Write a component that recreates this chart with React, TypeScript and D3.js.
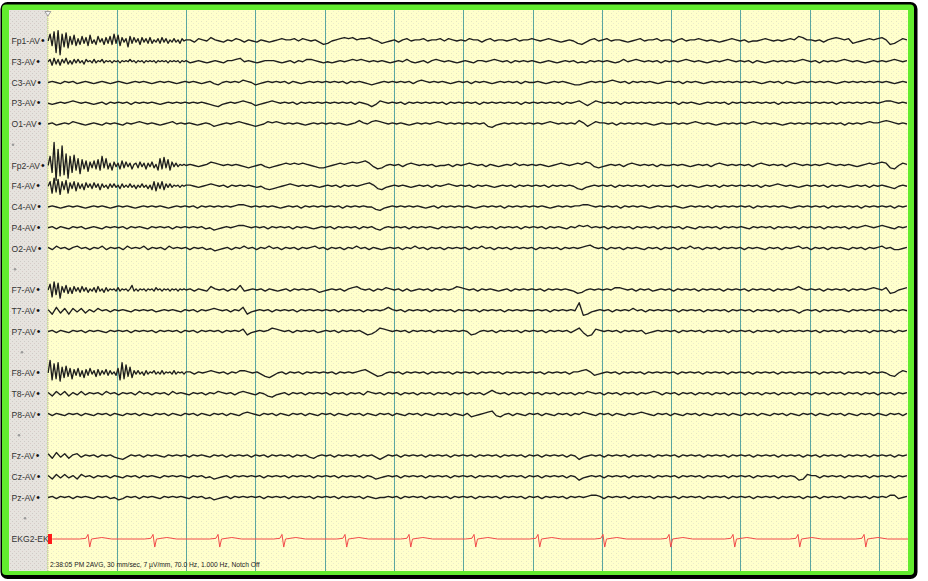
import React from "react";
import * as d3 from "d3";

const W = 928;
const H = 581;

// ---------- labels / text ----------
const LABELS = [
  "Fp1-AV", "F3-AV", "C3-AV", "P3-AV", "O1-AV", "*",
  "Fp2-AV", "F4-AV", "C4-AV", "P4-AV", "O2-AV", "*",
  "F7-AV", "T7-AV", "P7-AV", "*",
  "F8-AV", "T8-AV", "P8-AV", "*",
  "Fz-AV", "Cz-AV", "Pz-AV", "*",
  "EKG2-EK",
];
const SEP_X = [13, 15, 22, 19, 25];
const FOOTER = "2:38:05 PM 2AVG, 30 mm/sec, 7 \u00b5V/mm, 70.0 Hz, 1.000 Hz, Notch Off";
const SECONDS = 12.418;
const HEAD_END = 2.0; // first two seconds sampled finer for the burst channels
const SECOND_TICKS = [1, 2, 3, 4, 5, 6, 7, 8, 9, 10, 11, 12];

// ---------- burst heads (0–2 s, ~0.03 s apart) ----------
const FP1_HEAD = [0,6,-4,8,-10,9,-12,6,-5,7,-6,4,-3,5,-4,2,-3,4,-2,3,-4,5,-2,1,-3,4,-1,2,-3,3,-2,4,-3,6,-2,5,-4,3,-1,2,-5,4,-2,3,-1,2,-3,3,-1,2,-2,3,-2,1,-1,2,-2,3,-1,2,-2,1,-1,2,-1,1,-2,2,0,1];
const F3_HEAD = [0,2,-3,3,-2,2,-3,2,-1,3,-2,1,-2,2,-1,2,-1,1,-2,2,0,1,-1,2,-1,1,0,2,-1,1,0,1,-1,1,0,1,-1,1,0,1,0,2,0,1,-1,1,0,1,-1,1,0,1,0,1,-1,1,0,1,0,1,-1,1,0,1,0,1,-1,1,0,1];
const FP2_HEAD = [0,8,-6,20,-13,14,-9,17,-8,10,-11,8,-6,9,-4,6,-7,5,-3,4,-5,3,-2,4,-3,5,-4,8,-2,6,-3,2,-4,3,-1,2,-3,4,-2,3,-1,2,-3,1,2,-2,3,-1,2,-3,2,-1,3,-2,1,-4,6,-3,7,-2,5,-4,3,-1,2,-1,1,0,1,0];
const F4_HEAD = [0,4,-6,7,-5,6,-7,4,-3,5,-6,3,-2,4,-4,3,-2,2,-3,3,-1,2,-2,3,-1,2,-3,2,-1,1,-2,2,-1,2,-1,1,-2,2,-1,1,-1,2,-1,1,-2,1,-1,2,-1,1,-2,1,-3,4,-4,3,-2,4,-3,2,-1,2,-1,1,0,1,-1,1,0,1];
const F7_HEAD = [0,5,-6,7,-4,6,-7,3,-2,4,-3,2,-3,3,-1,2,-2,3,-1,2,-2,1,-1,2,-2,3,-1,1,-2,2,-1,1,0,1,-1,2,-1,1,0,1,-1,1,4,-1,1,-1,1,0,1,-1,1,0,1,-1,2,0,1,-1,1,0,1,-1,1,0,1,-1,1,0,1,0];
const F8_HEAD = [0,11,-6,8,-5,9,-7,5,-4,6,-3,4,-5,3,-2,4,-3,2,-4,3,-2,4,-1,2,-3,3,-2,2,-1,3,-2,2,-1,1,-2,4,-6,9,-5,7,-3,5,-4,2,-1,2,-1,1,-2,2,-1,1,0,2,-1,1,-1,2,-1,1,0,1,-1,2,-1,1,0,1,-1,1];

// ---------- EEG samples (px, up positive), ~0.06 s apart ----------
// burst channels: from 2 s on
const FP1 = [0,1,-1,2,1,0,3,1,0,-1,1,0,2,1,-1,1,
0,-1,1,0,-1,0,1,2,1,1,2,0,2,1,0,1,-1,
-3,-2,0,1,2,3,2,3,1,2,2,3,1,0,-2,-1,0,
1,-1,1,2,0,1,1,2,0,1,1,2,0,2,1,0,
1,0,2,1,1,-1,1,2,0,1,1,0,1,2,0,1,1,
2,1,0,1,2,1,0,-1,0,1,0,-2,-3,-1,1,2,0,
1,2,0,1,1,0,-1,0,1,2,0,1,1,2,0,1,
1,-1,1,2,0,1,1,2,1,0,1,0,-1,0,1,2,1,
0,1,-1,0,0,1,2,1,0,1,0,1,2,1,4,3,1,
1,0,1,-1,1,2,3,2,1,2,-2,-1,0,1,2,1,
2,3,1,-3,-2,0,2,1];
const F3 = [0,-1,0,1,0,-1,0,1,0,-1,1,1,2,3,0,1,
0,-1,0,1,1,1,0,-1,0,1,-1,1,0,2,2,1,0,
-1,0,-1,0,1,0,1,2,1,2,1,0,1,0,1,0,-1,
0,1,0,2,0,-1,0,1,-1,1,2,1,0,1,0,-1,
0,1,0,-1,1,1,0,1,2,1,0,1,-1,1,0,1,0,
1,0,-1,0,1,0,-1,0,1,0,1,-1,0,-1,1,0,1,
0,1,0,-1,0,2,0,1,2,1,0,1,0,1,-1,1,
0,1,0,1,2,1,0,1,0,-1,0,1,0,1,2,1,0,
1,0,1,-1,1,0,-1,0,1,0,1,0,1,0,1,2,1,
0,1,-1,1,0,1,0,1,2,1,0,1,0,-1,0,1,
0,1,0,1,2,1,0,1];
const FP2 = [0,1,0,-1,0,1,3,2,1,0,1,0,1,0,-1,-2,
-1,0,1,-1,-2,-1,0,1,2,1,2,1,2,1,0,-1,-2,
-2,-1,0,1,2,1,2,3,2,3,4,2,-1,-3,-2,0,1,
0,1,-1,1,2,1,0,1,0,1,-1,0,0,1,-1,1,
0,1,2,1,0,1,-1,1,0,-1,0,1,0,2,0,1,0,
1,0,1,0,-1,0,1,2,1,0,1,2,1,3,2,-1,-2,
-1,0,1,0,1,-1,1,2,1,0,1,0,1,-1,1,0,
0,1,0,1,0,-1,0,1,0,1,-1,1,2,1,0,1,0,
1,0,1,-1,1,2,1,0,1,0,1,-1,1,2,1,0,1,
0,1,0,1,2,1,0,1,0,1,0,-1,0,1,2,1,
2,3,2,-2,-3,0,2,1];
const F4 = [0,1,0,-1,0,1,2,1,0,1,-1,1,0,1,0,1,
0,-1,0,-2,-3,-2,-1,0,1,2,1,0,1,0,1,0,-1,
0,1,0,1,-1,1,0,1,0,1,2,3,1,-2,-3,-1,0,
1,0,1,0,-1,0,1,0,1,-1,1,0,1,2,1,0,
1,0,1,-1,1,0,1,0,-1,0,1,0,1,-1,1,0,1,
0,1,0,1,-1,1,0,1,0,1,0,-2,-3,-1,0,1,0,
1,0,1,-1,1,0,1,0,1,0,1,-1,1,0,1,0,
0,1,-1,1,0,1,0,-1,0,1,0,1,-1,1,0,1,0,
1,0,1,0,1,-1,1,0,1,2,1,0,1,0,-1,0,1,
0,1,0,1,-1,1,0,1,0,-1,0,1,0,1,-1,1,
0,1,0,-1,-2,0,1,0];
const F7 = [0,1,-1,1,0,-1,3,1,0,1,-1,1,0,4,-1,0,
1,0,1,-1,1,0,-1,0,1,-1,1,0,1,0,1,0,-2,
-1,0,1,0,1,-1,1,2,3,1,0,1,-1,1,0,2,1,
0,1,-1,1,-1,0,1,0,1,-1,1,0,1,0,1,3,
2,1,0,1,-1,1,0,1,0,-1,0,1,-1,1,0,1,0,
1,0,1,-1,1,0,1,0,1,0,-1,-3,-2,0,1,0,1,
0,1,0,2,2,1,0,1,-1,1,0,1,-1,0,1,0,
1,-1,1,0,1,0,1,-1,1,0,1,0,1,-1,1,0,1,
0,1,-1,1,0,1,0,1,-1,1,0,1,0,1,3,1,0,
1,0,1,-1,1,0,1,0,1,-1,1,0,1,0,1,2,
1,0,2,-3,-2,0,1,2];
const F8 = [0,1,-1,1,0,1,2,1,0,1,-1,1,0,2,2,1,
0,1,-1,-3,-4,-2,0,1,-1,1,0,1,-1,1,0,1,0,
1,0,1,-1,1,0,1,0,1,2,3,1,-1,-3,-2,0,1,
0,1,-1,1,0,1,0,1,-1,1,0,1,0,1,-1,1,
0,1,0,1,-1,1,0,1,0,1,-1,1,0,1,0,1,0,
1,0,1,-1,1,0,1,0,1,-1,1,1,2,3,1,-2,-1,
0,1,0,1,-1,1,0,1,0,1,-1,1,0,1,0,1,
0,1,-1,1,0,1,0,1,-1,1,0,1,0,1,-1,1,0,
1,0,1,-1,1,0,1,0,1,-1,1,0,1,0,1,0,1,
0,1,-1,1,0,1,0,1,-1,1,0,1,0,1,-1,1,
0,1,0,-2,-3,0,2,1];

// whole-record channels: from 0 s on
const C3 = [0,1,0,-1,1,0,1,-1,0,1,0,-1,0,1,0,-1,0,
1,0,-1,0,1,0,1,0,-1,0,1,0,1,0,-1,0,1,
0,1,0,-1,0,1,-1,-2,0,1,0,1,0,2,1,0,
-2,-1,0,1,0,1,0,1,-1,1,0,-1,0,1,0,1,0,
1,0,1,0,1,-1,1,0,1,0,-1,-2,-1,0,1,0,1,
0,1,0,1,-1,1,2,1,0,1,0,1,0,-1,0,1,
0,1,-1,1,0,1,0,-1,0,1,0,1,0,1,-1,1,0,
0,1,0,-1,0,1,0,1,0,-1,-2,-2,-1,0,1,0,1,
0,1,2,1,0,1,-1,1,0,1,0,1,0,-1,0,1,
1,0,1,-1,1,0,1,0,-1,0,1,0,1,0,1,0,1,
0,1,0,1,0,-1,0,1,0,1,-1,1,0,-1,0,1,0,
1,0,1,0,1,0,-1,0,1,0,1,0,1,0,1,0,
1,0,1,0,-1,0,1,0];
const P3 = [0,-1,0,1,0,1,2,1,0,1,0,-1,0,1,-1,1,0,
1,0,1,-1,1,0,1,0,1,0,-1,0,1,0,1,0,1,
0,1,0,1,0,-1,-2,-3,-1,0,1,0,1,2,1,0,
-2,-1,0,1,2,1,0,1,0,1,-1,1,0,1,0,1,0,
1,0,1,0,1,0,1,-1,1,0,-1,-3,-1,2,1,0,1,
0,1,-1,1,0,1,0,1,0,1,0,1,-1,1,0,1,
0,1,0,1,-1,1,0,1,0,1,0,1,0,1,-1,1,0,
1,0,1,0,1,0,1,-1,1,0,1,2,0,-2,0,2,1,
0,1,0,1,-1,1,0,1,0,1,0,1,0,1,0,1,
0,1,-1,1,0,1,0,-1,0,1,0,1,0,1,-1,1,0,
1,0,1,0,1,0,1,0,1,-1,1,0,1,0,1,0,1,
0,1,0,1,0,1,-1,1,0,1,0,1,0,1,0,1,
0,1,2,2,1,0,1,0];
const O1 = [0,1,-1,0,1,0,2,1,0,-1,0,1,0,-1,1,0,1,
0,-1,1,0,1,2,1,0,1,0,-1,0,1,2,0,1,0,
1,0,-1,0,1,0,-2,-1,0,1,0,1,2,1,0,-1,
-2,-1,0,2,1,2,1,0,1,0,1,0,-1,0,1,0,1,
0,1,0,1,0,-1,0,1,3,1,0,2,3,2,1,0,1,
0,1,0,-1,0,1,0,1,0,1,2,1,0,1,0,1,
0,1,0,1,0,1,-2,-3,-1,0,1,0,1,0,1,0,1,
0,1,0,1,2,1,0,1,0,1,0,3,1,-2,0,2,1,
1,0,1,-1,1,0,1,0,1,0,1,0,-1,0,1,0,
0,1,0,1,0,1,2,1,0,1,0,-1,0,1,0,1,0,
1,0,1,2,1,0,1,0,1,0,-1,0,1,0,1,0,1,
0,1,0,1,0,1,0,1,-1,1,0,1,0,1,2,1,
1,2,3,2,1,0,1,0];
const C4 = [0,1,0,-1,0,1,0,1,0,-1,0,1,0,1,0,-1,0,
1,0,1,0,-1,0,1,0,1,0,1,0,-1,0,1,0,1,
0,1,-1,1,0,1,0,1,0,1,0,1,2,2,1,0,
1,0,1,0,1,0,-1,0,1,0,1,-1,1,0,1,0,1,
0,1,0,1,-1,1,0,1,0,1,0,0,-2,-3,-1,0,1,
0,1,0,1,0,1,0,-1,0,1,-1,1,0,1,0,1,
0,1,0,-1,0,1,0,1,0,1,-1,1,0,1,0,1,0,
1,0,1,0,-1,0,1,0,1,0,1,1,2,2,1,0,1,
0,1,0,1,-1,1,0,1,0,1,0,-1,0,1,0,1,
0,1,0,-1,0,1,0,1,0,1,-1,1,0,1,0,1,0,
1,0,1,-1,1,0,1,0,1,0,1,0,-1,0,1,0,1,
0,1,0,1,-1,1,0,1,0,1,0,1,-1,1,0,1,
0,1,0,1,-1,1,0,1];
const P4 = [0,1,-1,1,0,-1,1,0,1,-1,0,1,0,-1,1,0,1,
0,1,-1,1,0,1,0,-1,1,0,1,0,1,-1,1,0,1,
0,1,0,1,-1,0,-2,-1,0,1,0,1,2,2,1,0,
1,0,1,-1,1,0,1,0,1,-1,1,0,1,0,-1,0,1,
0,1,-1,1,0,1,0,1,-1,1,0,1,-1,-2,0,1,0,
1,0,1,-1,1,0,1,0,1,0,-1,1,0,1,0,1,
0,1,-1,1,0,1,0,1,-1,1,0,1,0,1,-1,1,0,
1,0,1,-1,1,0,1,0,-1,1,0,2,1,2,0,1,0,
1,-1,1,0,1,0,1,-1,1,0,1,0,1,-1,1,0,
1,0,1,-1,1,0,-1,1,0,1,0,1,-1,1,0,1,0,
1,0,-1,1,0,1,0,1,-1,1,0,1,0,1,-1,1,0,
1,0,1,-1,1,0,1,0,1,-1,1,0,1,2,1,0,
1,2,1,0,-1,1,0,1];
const O2 = [1,-1,2,0,1,-1,1,2,0,1,-1,1,0,2,-1,1,0,
1,-1,2,0,1,0,2,-1,1,0,1,-1,2,0,1,0,1,
-1,1,0,1,-1,0,-2,-1,0,1,-1,1,0,2,0,1,
-1,1,0,2,0,1,-1,1,0,1,-1,1,0,1,2,0,1,
-1,1,0,1,-1,1,0,2,0,1,-1,1,0,-1,0,1,0,
1,-1,1,0,2,0,1,-1,1,0,1,-1,1,0,1,
0,1,-1,1,0,2,0,1,-1,1,0,1,-1,1,0,1,0,
1,-1,1,0,1,0,1,-1,1,0,1,0,1,2,3,1,0,
1,-1,1,0,1,-1,1,0,1,0,-1,1,0,1,-1,1,
0,1,-1,1,0,2,0,1,-1,1,0,1,-1,1,0,1,0,
1,-1,1,0,1,0,-1,1,0,1,-1,1,0,1,2,0,1,
-1,1,0,1,-1,1,0,1,0,-1,1,0,1,-1,1,0,
1,2,0,1,-1,-1,0,1];
const T7 = [1,-3,3,-2,2,-3,2,-1,2,-2,1,-1,2,0,1,-1,1,
0,1,0,-1,1,0,1,0,1,-1,0,1,0,1,0,-1,1,
0,1,-1,1,0,1,2,1,0,1,-1,1,0,3,-3,-1,
0,1,0,1,-1,1,0,1,0,1,-1,1,0,1,0,1,0,
1,0,1,-1,1,0,1,0,1,-1,1,0,1,0,1,3,1,
0,1,-1,1,0,1,0,1,-1,1,0,1,0,1,-1,1,
0,1,0,1,-1,1,0,1,0,1,-1,1,0,1,0,1,0,
0,1,0,1,-1,1,0,1,0,1,0,7,-4,-3,-1,0,1,
0,1,-1,1,0,1,0,2,0,1,-1,1,0,1,0,1,
0,1,-1,1,0,1,0,1,-1,1,0,1,0,1,-1,1,0,
1,0,1,-1,1,0,1,0,1,-1,1,0,1,0,-2,0,1,
0,1,-1,1,0,1,0,1,0,-1,1,0,1,0,1,0,
1,0,1,-1,1,0,1,0];
const P7 = [0,1,-1,1,0,-1,1,0,1,-1,1,0,1,0,-1,1,0,
1,0,1,-1,1,0,1,0,1,-1,1,0,1,0,1,-1,1,
0,1,-1,1,0,1,0,1,-1,1,0,1,0,2,-3,-1,
0,1,0,1,3,2,1,0,1,-1,1,0,1,0,1,-1,0,
1,0,1,-1,1,0,1,0,1,-1,-3,-2,0,3,2,1,0,
1,0,1,-1,1,0,1,0,1,-1,1,0,1,0,1,0,
1,0,-3,-2,0,1,0,1,-1,1,0,1,0,1,-1,1,0,
1,0,1,-1,1,0,1,0,1,-1,1,3,-1,-4,-3,2,1,
0,1,0,1,-1,1,0,1,0,1,-2,-1,0,1,0,1,
0,1,-1,1,0,1,0,1,-1,1,0,1,0,1,-1,1,0,
1,0,1,-1,1,0,1,0,1,-1,1,0,1,0,1,0,1,
0,1,-1,1,0,1,0,1,-1,1,0,1,0,1,-1,1,
0,1,0,1,-1,1,0,1];
const T8 = [1,-2,2,-1,2,-2,1,-1,2,-1,1,0,1,-1,2,0,1,
-1,1,0,1,-1,2,0,1,-1,1,0,1,-1,2,0,1,0,
-1,1,0,1,-1,1,0,2,1,0,1,-1,1,2,1,0,
-1,1,0,-2,-3,-1,0,1,-1,1,0,1,-1,1,0,1,0,
1,-1,1,0,1,-1,1,0,1,-1,2,1,0,1,-1,1,0,
1,-1,1,0,1,-1,1,0,1,-1,1,0,1,-1,1,0,
1,-1,1,0,1,-1,1,3,1,0,1,-1,1,0,1,-1,1,
0,1,-1,1,0,1,-1,1,0,1,-1,1,0,2,1,0,1,
-1,1,0,1,-1,1,0,1,-1,1,0,1,2,1,-1,1,
0,1,-1,1,0,1,-1,1,0,1,-1,1,0,1,-1,1,0,
1,-1,1,0,1,-1,1,0,1,-1,1,0,1,-1,1,0,1,
-1,1,0,1,-1,1,0,1,-1,1,0,1,-1,1,0,1,
-1,1,0,1,-1,1,0,1];
const P8 = [1,-1,1,0,-1,1,0,1,-1,1,0,-1,1,0,1,-1,1,
0,-1,1,0,1,-1,1,0,-1,1,0,1,-1,1,0,-1,1,
0,1,-1,1,0,-1,1,0,1,-1,1,0,-1,1,2,1,
0,-1,1,0,1,-1,1,0,-1,1,0,1,-1,1,0,-1,1,
0,1,-1,1,0,-1,1,0,1,-1,1,0,-1,1,0,1,-1,
1,0,-1,1,0,1,-1,1,0,-1,1,0,1,-1,1,0,
-1,1,-2,-1,0,1,2,3,-1,-2,0,1,-1,1,0,-1,1,
0,1,-1,1,0,-1,1,0,1,-1,1,0,2,1,0,-1,1,
0,1,-1,1,0,-1,1,0,1,2,1,0,-1,1,0,1,
-1,1,0,-1,1,0,1,-1,1,0,-1,1,0,1,-1,1,0,
-1,1,0,1,-1,1,0,-1,1,0,1,-1,1,0,-1,1,0,
1,-1,1,0,-1,1,0,1,-1,1,0,-1,1,0,1,-1,
1,0,-1,1,0,1,-1,1];
const FZ = [2,-2,3,-1,2,-2,1,2,-1,1,0,1,-1,1,0,1,-1,
-2,-3,-1,1,0,1,-1,1,0,1,0,-1,1,0,1,0,1,
-1,1,0,1,0,-1,1,0,1,-1,1,0,1,0,1,-1,
1,0,1,-1,1,0,1,0,1,-1,1,0,1,-1,-2,0,1,
0,1,-1,1,0,1,0,1,-1,1,0,1,-1,-3,-1,1,0,
1,-1,1,0,1,0,1,-1,1,0,1,0,1,-1,1,0,
1,0,1,-1,1,0,1,0,1,-1,1,0,1,0,1,-1,1,
0,1,-1,1,0,1,0,1,-1,1,0,-3,-1,0,1,0,1,
-1,1,0,1,0,1,-1,1,0,1,0,1,-1,1,0,1,
0,1,-1,1,0,1,0,1,-1,1,0,1,0,1,-1,1,0,
1,0,1,-1,1,0,1,0,1,-1,1,0,1,0,1,-1,1,
0,1,-1,1,0,1,0,1,-1,1,0,1,0,1,-1,1,
0,1,0,1,-1,1,0,1];
const CZ = [1,-2,2,-1,2,-1,1,-2,2,0,1,-1,1,0,1,-1,1,
0,-1,1,0,1,-1,1,0,1,0,-1,1,0,1,0,1,0,
-1,1,0,1,-1,0,-2,-1,0,1,-1,1,0,1,0,1,
0,1,-1,1,0,1,0,1,-1,1,0,1,0,1,-1,1,0,
1,0,1,-1,1,0,1,0,1,-1,1,0,-2,-1,0,1,0,
1,-1,1,0,1,0,1,-1,1,0,1,0,1,-1,1,0,
1,0,1,-1,1,0,1,0,1,-1,1,0,1,0,1,-1,1,
0,1,-1,1,0,1,0,1,-1,1,0,-3,-1,0,1,0,1,
-1,1,0,1,0,1,-1,1,0,1,0,1,-1,1,0,1,
0,1,-1,1,0,1,0,1,-1,1,0,1,0,1,-1,1,0,
1,0,1,-1,1,0,1,0,1,-1,1,0,1,0,-3,-2,2,
1,1,-1,1,0,1,0,1,-1,1,0,1,0,1,-1,1,
0,1,0,1,-1,1,0,1];
const PZ = [0,1,-1,1,0,1,-1,1,0,1,0,-1,1,0,1,-1,0,
-2,-1,1,0,1,-1,1,0,1,0,-1,1,0,1,0,1,0,
-1,1,0,1,-1,0,-2,-1,0,1,-1,1,0,1,0,1,
0,1,-1,1,0,1,0,1,-1,1,0,1,0,1,-1,1,0,
1,0,1,-1,1,0,1,0,1,-1,1,0,-1,0,0,1,0,
1,-1,1,0,1,0,1,-1,1,0,1,0,1,-1,1,0,
1,0,1,-1,1,0,1,0,1,-1,1,0,1,0,1,-1,1,
0,1,-1,1,0,1,0,1,-1,1,0,1,0,1,2,2,1,
-1,1,0,1,0,1,-1,1,0,1,0,1,-1,1,0,1,
0,1,-1,1,0,1,0,1,-1,1,0,1,0,1,-1,1,0,
1,0,1,-1,1,0,1,0,1,-1,1,0,1,0,1,-1,1,
0,1,-1,1,0,1,0,1,-1,1,0,1,0,1,-1,1,
0,1,0,2,2,-1,0,1];

// [row, head (0–2 s) or null, body]
const EEG_ROWS: [number, number[] | null, number[]][] = [
  [0, FP1_HEAD, FP1], [1, F3_HEAD, F3], [2, null, C3], [3, null, P3], [4, null, O1],
  [6, FP2_HEAD, FP2], [7, F4_HEAD, F4], [8, null, C4], [9, null, P4], [10, null, O2],
  [12, F7_HEAD, F7], [13, null, T7], [14, null, P7],
  [16, F8_HEAD, F8], [17, null, T8], [18, null, P8],
  [20, null, FZ], [21, null, CZ], [22, null, PZ],
];

// ---------- EKG (time s, value px) ----------
const EKG: [number, number][] = [
  [0.07, 0],
  [0.466, 0], [0.556, 0.6], [0.586, 4], [0.611, -7], [0.636, 0], [0.786, 1.3], [0.926, 0],
  [1.404, 0], [1.494, 0.6], [1.524, 4], [1.549, -7], [1.574, 0], [1.724, 1.3], [1.864, 0],
  [2.342, 0], [2.432, 0.6], [2.462, 4], [2.487, -7], [2.512, 0], [2.662, 1.3], [2.802, 0],
  [3.265, 0], [3.355, 0.6], [3.385, 4], [3.41, -7], [3.435, 0], [3.585, 1.3], [3.725, 0],
  [4.174, 0], [4.264, 0.6], [4.294, 4], [4.319, -7], [4.344, 0], [4.494, 1.3], [4.634, 0],
  [5.098, 0], [5.188, 0.6], [5.218, 4], [5.243, -7], [5.268, 0], [5.418, 1.3], [5.558, 0],
  [6.036, 0], [6.126, 0.6], [6.156, 4], [6.181, -7], [6.206, 0], [6.356, 1.3], [6.496, 0],
  [6.959, 0], [7.049, 0.6], [7.079, 4], [7.104, -7], [7.129, 0], [7.279, 1.3], [7.419, 0],
  [7.897, 0], [7.987, 0.6], [8.017, 4], [8.042, -7], [8.067, 0], [8.217, 1.3], [8.357, 0],
  [8.85, 0], [8.94, 0.6], [8.97, 4], [8.995, -7], [9.02, 0], [9.17, 1.3], [9.31, 0],
  [9.773, 0], [9.863, 0.6], [9.893, 4], [9.918, -7], [9.943, 0], [10.093, 1.3], [10.233, 0],
  [10.711, 0], [10.801, 0.6], [10.831, 4], [10.856, -7], [10.881, 0], [11.031, 1.3], [11.171, 0],
  [11.664, 0], [11.754, 0.6], [11.784, 4], [11.809, -7], [11.834, 0], [11.984, 1.3], [12.124, 0],
  [12.418, 0],
];

// ---------- layout ----------
const PLOT_L = 47.4;
const PLOT_R = 908;
const TOP = 10;
const BOTTOM = 571;
const LABEL_L = 9;
const ROW0 = 41;
const ROWN = 539;
const T_START = 0.01;
const T_END = SECONDS - 0.015;

export default function App() {
  const x = d3.scaleLinear().domain([0, SECONDS]).range([PLOT_L, PLOT_R]);
  const row = d3.scaleLinear().domain([0, LABELS.length - 1]).range([ROW0, ROWN]);
  const amp = d3.scaleLinear().domain([-10, 10]).range([11.5, -11.5]);

  const toPoints = (vals: number[], t0: number, t1: number): [number, number][] => {
    const t = d3.scaleLinear().domain([0, vals.length - 1]).range([t0, t1]);
    return vals.map((v, i) => [t(i), v]);
  };
  const eegPath = (head: number[] | null, body: number[], r: number) => {
    const pts = head
      ? [...toPoints(head, T_START, HEAD_END), ...toPoints(body, HEAD_END, T_END).slice(1)]
      : toPoints(body, T_START, T_END);
    return d3
      .line<[number, number]>()
      .x((d) => x(d[0]))
      .y((d) => row(r) + amp(d[1]))(pts) as string;
  };
  const ekgRow = LABELS.length - 1;
  const ekgPath = d3
    .line<[number, number]>()
    .x((d) => x(d[0]))
    .y((d) => row(ekgRow) + amp(d[1]))(EKG) as string;

  let sep = 0;
  return (
    <svg
      width={W}
      height={H}
      style={{ position: "absolute", left: 0, top: 0, display: "block" }}
      fontFamily="'Liberation Sans', Arial, sans-serif"
    >
      <defs>
        <pattern id="spk" width="5" height="4" patternUnits="userSpaceOnUse">
          <rect x="1" y="1" width="1" height="1" fill="#b8b8a8" opacity="0.35" />
          <rect x="3" y="3" width="1" height="1" fill="#b0b0d8" opacity="0.25" />
        </pattern>
        <pattern id="spk2" width="4" height="4" patternUnits="userSpaceOnUse">
          <rect x="0" y="1" width="1" height="1" fill="#a8a4a0" opacity="0.4" />
          <rect x="2" y="3" width="1" height="1" fill="#c0a8a8" opacity="0.4" />
        </pattern>
        <clipPath id="plotclip">
          <rect x={PLOT_L} y={TOP} width={PLOT_R - PLOT_L} height={BOTTOM - TOP} />
        </clipPath>
      </defs>

      {/* frame */}
      <rect x={0.5} y={2} width={917} height={577} rx={7} fill="#000" />
      <rect x={2} y={4.5} width={912} height={570.5} rx={4} fill="#62ec2e" />
      <rect x={LABEL_L} y={TOP} width={PLOT_L - LABEL_L} height={BOTTOM - TOP} fill="#e6e3de" />
      <rect x={LABEL_L} y={TOP} width={PLOT_L - LABEL_L} height={BOTTOM - TOP} fill="url(#spk2)" />
      <rect x={PLOT_L} y={TOP} width={PLOT_R - PLOT_L} height={BOTTOM - TOP} fill="#ffffcc" />
      <rect x={PLOT_L} y={TOP} width={PLOT_R - PLOT_L} height={BOTTOM - TOP} fill="url(#spk)" />

      {/* left edge of plot */}
      <line x1={PLOT_L + 0.5} x2={PLOT_L + 0.5} y1={TOP} y2={BOTTOM} stroke="#c9a7a7" strokeWidth={1} strokeDasharray="1 1" />

      {/* second lines */}
      {SECOND_TICKS.map((s) => (
        <line
          key={s}
          x1={Math.round(x(s)) + 0.5}
          x2={Math.round(x(s)) + 0.5}
          y1={TOP}
          y2={BOTTOM}
          stroke="#5aa6a0"
          strokeWidth={1}
        />
      ))}

      {/* marker triangle */}
      <path
        d={`M${PLOT_L - 2.5},${TOP + 1.5} L${PLOT_L + 3.5},${TOP + 1.5} L${PLOT_L + 0.5},${TOP + 6} Z`}
        fill="#f4f4f4"
        stroke="#8a8a8a"
        strokeWidth={0.8}
      />

      {/* labels */}
      {LABELS.map((lab, i) => {
        if (lab === "*") {
          const sx = SEP_X[sep++];
          return <circle key={i} cx={sx} cy={row(i)} r={1.3} fill="#9a9a9a" />;
        }
        if (i === ekgRow) {
          return (
            <text key={i} x={11.5} y={row(i) + 3} fontSize={8.6} fill="#333">
              {lab}
            </text>
          );
        }
        return (
          <text key={i} x={11.5} y={row(i) + 3} fontSize={8.6} fill="#333">
            {lab}
            <tspan dx={1} fontSize={10.5} fill="#111">{"\u2022"}</tspan>
          </text>
        );
      })}

      {/* traces */}
      <g clipPath="url(#plotclip)">
        {EEG_ROWS.map(([r, head, body]) => (
          <path key={r} d={eegPath(head, body, r)} fill="none" stroke="#1e1e1e" strokeWidth={1.35} strokeLinejoin="round" />
        ))}
        <path d={ekgPath} fill="none" stroke="#f24a4a" strokeWidth={1} />
      </g>

      {/* EKG marker */}
      <rect x={48} y={row(ekgRow) - 5} width={4} height={10} fill="#ff1a1a" />

      {/* footer */}
      <text x={50} y={567} fontSize={6.7} fill="#222">
        {FOOTER}
      </text>
    </svg>
  );
}
